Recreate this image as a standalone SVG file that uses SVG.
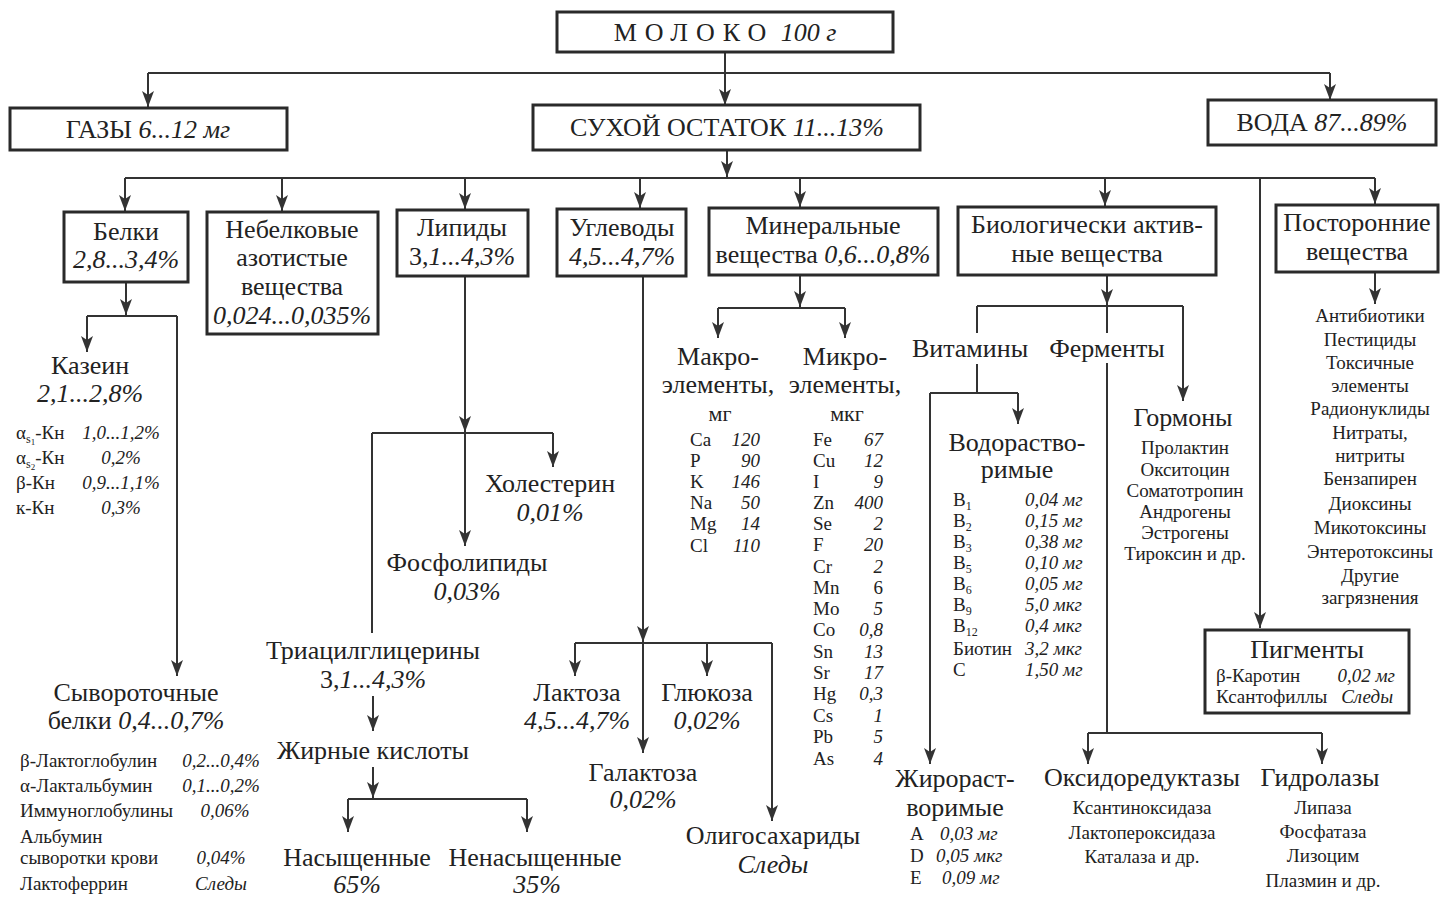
<svg xmlns="http://www.w3.org/2000/svg" width="1454" height="897" viewBox="0 0 1454 897">
<defs>
<marker id="ah" viewBox="0 -6 16 12" refX="16" refY="0" markerWidth="16" markerHeight="12" markerUnits="userSpaceOnUse" orient="auto">
<path d="M0,-6 L16,0 L0,6 L4,0 z" fill="#333"/>
</marker>
</defs>
<style>
text{font-family:"Liberation Serif","DejaVu Serif",serif;fill:#222}
.b{font-size:26px;text-anchor:middle}
.s{font-size:19px}
.sc{font-size:19px;text-anchor:middle}
.u{font-size:22px;text-anchor:middle}
.i{font-style:italic}
.r{text-anchor:end}
.sub{font-size:12px}
.box{fill:#fff;stroke:#2a2a2a;stroke-width:3}
.ln{fill:none;stroke:#333;stroke-width:2}
.ar{fill:none;stroke:#333;stroke-width:2;marker-end:url(#ah)}
</style>
<rect width="1454" height="897" fill="#fff"/>

<g id="connectors">
<path class="ar" d="M725,52 V105"/>
<path class="ln" d="M148,73 H1330"/>
<path class="ar" d="M148,73 V107"/>
<path class="ar" d="M1330,73 V100"/>
<path class="ar" d="M727,150 V177"/>
<path class="ln" d="M125,178 H1375"/>
<path class="ar" d="M125,178 V211"/>
<path class="ar" d="M282,178 V211"/>
<path class="ar" d="M465,178 V209"/>
<path class="ar" d="M640,178 V208"/>
<path class="ar" d="M800,178 V207"/>
<path class="ar" d="M1105,178 V206"/>
<path class="ar" d="M1260,178 V628"/>
<path class="ar" d="M1375,178 V204"/>
<path class="ar" d="M126,282 V315"/>
<path class="ln" d="M87,316 H177"/>
<path class="ar" d="M87,316 V352"/>
<path class="ar" d="M177,316 V676"/>
<path class="ar" d="M465,276 V432"/>
<path class="ln" d="M372,433 H553"/>
<path class="ar" d="M553,433 V467"/>
<path class="ar" d="M465,433 V546"/>
<path class="ln" d="M372,433 V633"/>
<path class="ar" d="M373,696 V731"/>
<path class="ar" d="M373,767 V798"/>
<path class="ln" d="M348,799 H527"/>
<path class="ar" d="M348,799 V832"/>
<path class="ar" d="M527,799 V832"/>
<path class="ar" d="M643,276 V642"/>
<path class="ln" d="M575,643 H772"/>
<path class="ar" d="M643,643 V753"/>
<path class="ar" d="M575,643 V676"/>
<path class="ar" d="M707,643 V676"/>
<path class="ar" d="M772,643 V821"/>
<path class="ar" d="M800,275 V307"/>
<path class="ln" d="M718,308 H845"/>
<path class="ar" d="M718,308 V338"/>
<path class="ar" d="M845,308 V338"/>
<path class="ar" d="M1107,275 V305"/>
<path class="ln" d="M977,306 H1183"/>
<path class="ln" d="M977,306 V333"/>
<path class="ln" d="M1107,306 V333"/>
<path class="ar" d="M1183,306 V401"/>
<path class="ln" d="M977,364 V393"/>
<path class="ln" d="M930,393 H1018"/>
<path class="ar" d="M1018,393 V424"/>
<path class="ar" d="M930,393 V764"/>
<path class="ln" d="M1107,363 V733"/>
<path class="ln" d="M1088,733 H1322"/>
<path class="ar" d="M1088,733 V764"/>
<path class="ar" d="M1322,733 V764"/>
<path class="ar" d="M1375,272 V304"/>
</g>

<g id="moloko">
<rect class="box" x="557" y="12" width="336" height="40"/>
<text class="b" x="725" y="41"><tspan letter-spacing="8">МОЛОКО</tspan> <tspan class="i">100 г</tspan></text>
</g>
<g id="gazy">
<rect class="box" x="10" y="108" width="277" height="42"/>
<text class="b" x="148" y="138">ГАЗЫ <tspan class="i">6...12 мг</tspan></text>
</g>
<g id="sukhoy">
<rect class="box" x="533" y="105" width="387" height="45"/>
<text class="b" x="727" y="136">СУХОЙ ОСТАТОК <tspan class="i">11...13%</tspan></text>
</g>
<g id="voda">
<rect class="box" x="1208" y="100" width="228" height="45"/>
<text class="b" x="1322" y="131">ВОДА <tspan class="i">87...89%</tspan></text>
</g>

<g id="belki">
<rect class="box" x="64" y="212" width="124" height="70"/>
<text class="b" x="126" y="240">Белки</text>
<text class="b i" x="126" y="268">2,8...3,4%</text>
</g>
<g id="nebelkovye">
<rect class="box" x="207" y="212" width="171" height="122"/>
<text class="b" x="292" y="238">Небелковые</text>
<text class="b" x="292" y="266">азотистые</text>
<text class="b" x="292" y="295">вещества</text>
<text class="b i" x="292" y="324">0,024...0,035%</text>
</g>
<g id="lipidy">
<rect class="box" x="397" y="210" width="131" height="66"/>
<text class="b" x="462" y="236">Липиды</text>
<text class="b" x="462" y="265">3,<tspan class="i">1...4,3%</tspan></text>
</g>
<g id="uglevody">
<rect class="box" x="557" y="209" width="129" height="67"/>
<text class="b" x="622" y="236">Углеводы</text>
<text class="b i" x="622" y="265">4,5...4,7%</text>
</g>
<g id="mineralnye">
<rect class="box" x="709" y="208" width="229" height="67"/>
<text class="b" x="823" y="234">Минеральные</text>
<text class="b" x="823" y="263">вещества  <tspan class="i">0,6...0,8%</tspan></text>
</g>
<g id="bav">
<rect class="box" x="958" y="207" width="258" height="68"/>
<text class="b" x="1087" y="233">Биологически актив-</text>
<text class="b" x="1087" y="262">ные вещества</text>
</g>
<g id="postoronnie">
<rect class="box" x="1276" y="205" width="162" height="67"/>
<text class="b" x="1357" y="231">Посторонние</text>
<text class="b" x="1357" y="260">вещества</text>
<text class="sc" x="1370" y="322">Антибиотики</text>
<text class="sc" x="1370" y="346">Пестициды</text>
<text class="sc" x="1370" y="369">Токсичные</text>
<text class="sc" x="1370" y="392">элементы</text>
<text class="sc" x="1370" y="415">Радионуклиды</text>
<text class="sc" x="1370" y="439">Нитраты,</text>
<text class="sc" x="1370" y="462">нитриты</text>
<text class="sc" x="1370" y="485">Бензапирен</text>
<text class="sc" x="1370" y="510">Диоксины</text>
<text class="sc" x="1370" y="534">Микотоксины</text>
<text class="sc" x="1370" y="558">Энтеротоксины</text>
<text class="sc" x="1370" y="582">Другие</text>
<text class="sc" x="1370" y="604">загрязнения</text>
</g>

<g id="kazein">
<text class="b" x="90" y="374">Казеин</text>
<text class="b i" x="90" y="402">2,1...2,8%</text>
<text class="s" x="16" y="439">α<tspan font-size="12" dy="4">s</tspan><tspan font-size="9" dy="2">1</tspan><tspan dy="-6">-Кн</tspan></text>
<text class="sc i" x="121" y="439">1,0...1,2%</text>
<text class="s" x="16" y="464">α<tspan font-size="12" dy="4">s</tspan><tspan font-size="9" dy="2">2</tspan><tspan dy="-6">-Кн</tspan></text>
<text class="sc i" x="121" y="464">0,2%</text>
<text class="s" x="16" y="489">β-Кн</text>
<text class="sc i" x="121" y="489">0,9...1,1%</text>
<text class="s" x="16" y="514">к-Кн</text>
<text class="sc i" x="121" y="514">0,3%</text>
</g>

<g id="syvorotochnye">
<text class="b" x="136" y="701">Сывороточные</text>
<text class="b" x="136" y="729">белки  <tspan class="i">0,4...0,7%</tspan></text>
<text class="s" x="20" y="767">β-Лактоглобулин</text>
<text class="sc i" x="221" y="767">0,2...0,4%</text>
<text class="s" x="20" y="792">α-Лактальбумин</text>
<text class="sc i" x="221" y="792">0,1...0,2%</text>
<text class="s" x="20" y="817">Иммуноглобулины</text>
<text class="sc i" x="225" y="817">0,06%</text>
<text class="s" x="20" y="843">Альбумин</text>
<text class="s" x="20" y="864">сыворотки крови</text>
<text class="sc i" x="221" y="864">0,04%</text>
<text class="s" x="20" y="890">Лактоферрин</text>
<text class="sc i" x="221" y="890">Следы</text>
</g>

<g id="kholesterin">
<text class="b" x="550" y="492">Холестерин</text>
<text class="b i" x="550" y="521">0,01%</text>
</g>
<g id="fosfolipidy">
<text class="b" x="467" y="571">Фосфолипиды</text>
<text class="b i" x="467" y="600">0,03%</text>
</g>
<g id="triacil">
<text class="b" x="373" y="659">Триацилглицерины</text>
<text class="b" x="373" y="688">3,<tspan class="i">1...4,3%</tspan></text>
</g>
<g id="zhirnye">
<text class="b" x="373" y="759">Жирные кислоты</text>
</g>
<g id="nasyshchennye">
<text class="b" x="357" y="866">Насыщенные</text>
<text class="b i" x="357" y="893">65%</text>
</g>
<g id="nenasyshchennye">
<text class="b" x="535" y="866">Ненасыщенные</text>
<text class="b i" x="537" y="893">35%</text>
</g>

<g id="laktoza">
<text class="b" x="577" y="701">Лактоза</text>
<text class="b i" x="577" y="729">4,5...4,7%</text>
</g>
<g id="glyukoza">
<text class="b" x="707" y="701">Глюкоза</text>
<text class="b i" x="707" y="729">0,02%</text>
</g>
<g id="galaktoza">
<text class="b" x="643" y="781">Галактоза</text>
<text class="b i" x="643" y="808">0,02%</text>
</g>
<g id="oligosakharidy">
<text class="b" x="773" y="844">Олигосахариды</text>
<text class="b i" x="773" y="873">Следы</text>
</g>

<g id="makro">
<text class="b" x="718" y="365">Макро-</text>
<text class="b" x="718" y="393">элементы,</text>
<text class="u" x="720" y="421">мг</text>
<text class="s" x="690" y="446">Ca</text><text class="s i r" x="760" y="446">120</text>
<text class="s" x="690" y="467">P</text><text class="s i r" x="760" y="467">90</text>
<text class="s" x="690" y="488">K</text><text class="s i r" x="760" y="488">146</text>
<text class="s" x="690" y="509">Na</text><text class="s i r" x="760" y="509">50</text>
<text class="s" x="690" y="530">Mg</text><text class="s i r" x="760" y="530">14</text>
<text class="s" x="690" y="552">Cl</text><text class="s i r" x="760" y="552">110</text>
</g>
<g id="mikro">
<text class="b" x="845" y="365">Микро-</text>
<text class="b" x="845" y="393">элементы,</text>
<text class="u" x="847" y="421">мкг</text>
<text class="s" x="813" y="446">Fe</text><text class="s i r" x="883" y="446">67</text>
<text class="s" x="813" y="467">Cu</text><text class="s i r" x="883" y="467">12</text>
<text class="s" x="813" y="488">I</text><text class="s i r" x="883" y="488">9</text>
<text class="s" x="813" y="509">Zn</text><text class="s i r" x="883" y="509">400</text>
<text class="s" x="813" y="530">Se</text><text class="s i r" x="883" y="530">2</text>
<text class="s" x="813" y="551">F</text><text class="s i r" x="883" y="551">20</text>
<text class="s" x="813" y="573">Cr</text><text class="s i r" x="883" y="573">2</text>
<text class="s" x="813" y="594">Mn</text><text class="s r" x="883" y="594">6</text>
<text class="s" x="813" y="615">Mo</text><text class="s i r" x="883" y="615">5</text>
<text class="s" x="813" y="636">Co</text><text class="s i r" x="883" y="636">0,8</text>
<text class="s" x="813" y="658">Sn</text><text class="s i r" x="883" y="658">13</text>
<text class="s" x="813" y="679">Sr</text><text class="s i r" x="883" y="679">17</text>
<text class="s" x="813" y="700">Hg</text><text class="s i r" x="883" y="700">0,3</text>
<text class="s" x="813" y="722">Cs</text><text class="s i r" x="883" y="722">1</text>
<text class="s" x="813" y="743">Pb</text><text class="s i r" x="883" y="743">5</text>
<text class="s" x="813" y="765">As</text><text class="s i r" x="883" y="765">4</text>
</g>

<g id="vitaminy">
<text class="b" x="970" y="357">Витамины</text>
</g>
<g id="fermenty">
<text class="b" x="1107" y="357">Ферменты</text>
</g>
<g id="vodorastvorimye">
<text class="b" x="1017" y="451">Водораство-</text>
<text class="b" x="1017" y="478">римые</text>
<text class="s" x="953" y="506">B<tspan class="sub" dy="4">1</tspan></text><text class="s i" x="1025" y="506">0,04 мг</text>
<text class="s" x="953" y="527">B<tspan class="sub" dy="4">2</tspan></text><text class="s i" x="1025" y="527">0,15 мг</text>
<text class="s" x="953" y="548">B<tspan class="sub" dy="4">3</tspan></text><text class="s i" x="1025" y="548">0,38 мг</text>
<text class="s" x="953" y="569">B<tspan class="sub" dy="4">5</tspan></text><text class="s i" x="1025" y="569">0,10 мг</text>
<text class="s" x="953" y="590">B<tspan class="sub" dy="4">6</tspan></text><text class="s i" x="1025" y="590">0,05 мг</text>
<text class="s" x="953" y="611">B<tspan class="sub" dy="4">9</tspan></text><text class="s i" x="1025" y="611">5,0 мкг</text>
<text class="s" x="953" y="632">B<tspan class="sub" dy="4">12</tspan></text><text class="s i" x="1025" y="632">0,4 мкг</text>
<text class="s" x="953" y="655">Биотин</text><text class="s i" x="1025" y="655">3,2 мкг</text>
<text class="s" x="953" y="676">C</text><text class="s i" x="1025" y="676">1,50 мг</text>
</g>
<g id="zhirorastvorimye">
<text class="b" x="955" y="787">Жирораст-</text>
<text class="b" x="955" y="816">воримые</text>
<text class="s" x="910" y="840">A</text><text class="s i" x="940" y="840">0,03 мг</text>
<text class="s" x="910" y="862">D</text><text class="s i" x="936" y="862">0,05 мкг</text>
<text class="s" x="910" y="884">E</text><text class="s i" x="942" y="884">0,09 мг</text>
</g>
<g id="gormony">
<text class="b" x="1183" y="426">Гормоны</text>
<text class="sc" x="1185" y="454">Пролактин</text>
<text class="sc" x="1185" y="476">Окситоцин</text>
<text class="sc" x="1185" y="497">Соматотропин</text>
<text class="sc" x="1185" y="518">Андрогены</text>
<text class="sc" x="1185" y="539">Эстрогены</text>
<text class="sc" x="1185" y="560">Тироксин и др.</text>
</g>
<g id="oksidoreduktazy">
<text class="b" x="1142" y="786">Оксидоредуктазы</text>
<text class="sc" x="1142" y="814">Ксантиноксидаза</text>
<text class="sc" x="1142" y="839">Лактопероксидаза</text>
<text class="sc" x="1142" y="863">Каталаза и др.</text>
</g>
<g id="gidrolazy">
<text class="b" x="1320" y="786">Гидролазы</text>
<text class="sc" x="1323" y="814">Липаза</text>
<text class="sc" x="1323" y="838">Фосфатаза</text>
<text class="sc" x="1323" y="862">Лизоцим</text>
<text class="sc" x="1323" y="887">Плазмин и др.</text>
</g>
<g id="pigmenty">
<rect class="box" x="1205" y="630" width="204" height="83"/>
<text class="b" x="1307" y="658">Пигменты</text>
<text class="s" x="1216" y="682">β-Каротин</text><text class="s i r" x="1395" y="682">0,02 мг</text>
<text class="s" x="1216" y="703">Ксантофиллы</text><text class="s i r" x="1393" y="703">Следы</text>
</g>
</svg>
